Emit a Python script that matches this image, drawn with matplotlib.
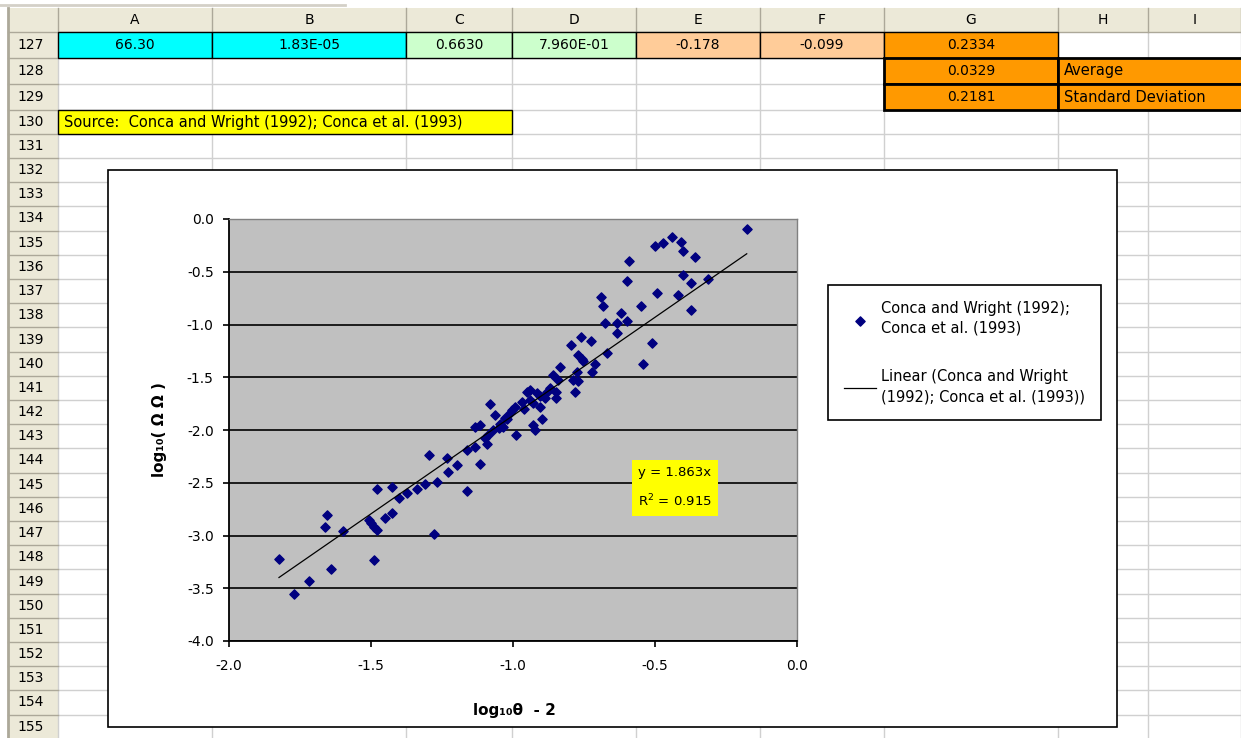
import numpy as np
import matplotlib.pyplot as plt
from matplotlib.patches import Rectangle

# scatter values: log10(theta) - 2  vs  log10(...)
x_vals = [-1.824, -1.770, -1.717, -1.655, -1.662, -1.642, -1.600, -1.508, -1.500, -1.490,
          -1.478, -1.479, -1.490, -1.450, -1.427, -1.427, -1.401, -1.374, -1.339, -1.310,
          -1.296, -1.277, -1.267, -1.234, -1.228, -1.198, -1.163, -1.163, -1.134, -1.116,
          -1.134, -1.116, -1.093, -1.087, -1.070, -1.034, -0.990, -1.081, -1.063, -0.928,
          -0.923, -0.899, -0.905, -1.005, -0.993, -1.010, -1.028, -1.046, -0.970, -0.952,
          -0.940, -0.917, -0.905, -0.887, -0.881, -0.858, -0.847, -0.835, -0.840, -0.782,
          -0.788, -0.770, -0.776, -0.752, -0.723, -0.711, -0.940, -0.847, -0.797, -0.770,
          -0.756, -0.762, -0.725, -0.670, -0.543, -0.509, -0.635, -0.676, -0.600, -0.635,
          -0.620, -0.549, -0.494, -0.418, -0.691, -0.684, -0.374, -0.312, -0.374, -0.403,
          -0.600, -0.592, -0.359, -0.403, -0.408, -0.441, -0.473, -0.500, -0.177,
          -1.100, -1.050, -1.020, -0.960, -0.930, -0.870]
y_vals = [-3.22, -3.55, -3.43, -2.81, -2.92, -3.32, -2.96, -2.85, -2.88, -2.92,
          -2.95, -2.56, -3.23, -2.83, -2.79, -2.54, -2.64, -2.60, -2.56, -2.51,
          -2.24, -2.99, -2.49, -2.27, -2.40, -2.33, -2.58, -2.19, -2.16, -2.32,
          -1.97, -1.95, -2.13, -2.05, -2.00, -1.97, -2.05, -1.75, -1.86, -1.95,
          -2.00, -1.90, -1.78, -1.81, -1.78, -1.84, -1.89, -1.94, -1.73, -1.64,
          -1.62, -1.65, -1.68, -1.70, -1.64, -1.48, -1.64, -1.40, -1.53, -1.64,
          -1.53, -1.54, -1.45, -1.35, -1.45, -1.37, -1.72, -1.70, -1.19, -1.29,
          -1.33, -1.12, -1.16, -1.27, -1.37, -1.18, -1.08, -0.99, -0.97, -0.99,
          -0.89, -0.82, -0.70, -0.72, -0.74, -0.82, -0.86, -0.57, -0.61, -0.53,
          -0.59, -0.40, -0.36, -0.30, -0.22, -0.17, -0.23, -0.26, -0.095,
          -2.08, -1.98, -1.90, -1.80, -1.74, -1.60]
slope = 1.863
r2 = 0.915

# spreadsheet content around the chart
col_names = ["A", "B", "C", "D", "E", "F", "G", "H", "I"]
col_edges = [58, 212, 406, 512, 636, 760, 884, 1058, 1148, 1241]
row_names = list(range(127, 156))
row127 = ["66.30", "1.83E-05", "0.6630", "7.960E-01", "-0.178", "-0.099", "0.2334"]
row127_colors = ["#00FFFF", "#00FFFF", "#CCFFCC", "#CCFFCC", "#FFCC99", "#FFCC99", "#FF9900"]
stats_vals = ["0.0329", "0.2181"]
stats_names = ["Average", "Standard Deviation"]
source_text = "Source:  Conca and Wright (1992); Conca et al. (1993)"
series_name = "Conca and Wright (1992);\nConca et al. (1993)"
trend_name = "Linear (Conca and Wright\n(1992); Conca et al. (1993))"

W, H = 1241, 738
fig = plt.figure(figsize=(W / 100, H / 100), dpi=100)
plt.rcParams['font.family'] = ['DejaVu Sans']

# background "sheet" axes in pixel units
bg = fig.add_axes([0, 0, 1, 1])
bg.set_xlim(0, W)
bg.set_ylim(H, 0)
bg.axis("off")

row_edges = [32, 58, 84, 110, 134, 158] + [158 + 24.2 * k for k in range(1, 24)]
header_col = "#ECE9D8"
grid_col = "#D0D0D0"

# header row + row header column
bg.add_patch(Rectangle((8, 8), W - 8, 24, facecolor=header_col, edgecolor="none", zorder=1))
bg.add_patch(Rectangle((8, 8), 50, H - 8, facecolor=header_col, edgecolor="none", zorder=1))
bg.plot([0, 345], [5, 5], color="#D4D0C8", lw=2, zorder=2)
bg.plot([8, 8], [8, H], color="#ACA899", lw=2, zorder=2)
for i, name in enumerate(col_names):
    x0, x1 = col_edges[i], col_edges[i + 1]
    bg.text((x0 + x1) / 2, 20, name, ha="center", va="center", fontsize=10, zorder=3)
for e in col_edges:
    bg.plot([e, e], [8, 32], color="#ACA899", lw=1, zorder=2)
    bg.plot([e, e], [32, H], color=grid_col, lw=1, zorder=1.5)
for i, r in enumerate(row_names):
    y0 = row_edges[i]
    y1 = row_edges[i + 1] if i + 1 < len(row_edges) else y0 + 24.2
    bg.text(17, (y0 + y1) / 2, str(r), ha="left", va="center", fontsize=10, zorder=3)
    bg.plot([8, 58], [y1, y1], color="#ACA899", lw=1, zorder=2)
    bg.plot([58, W], [y1, y1], color=grid_col, lw=1, zorder=1.5)
bg.plot([8, W], [32, 32], color="#ACA899", lw=1, zorder=2)

# row 127 colored cells
for i, (txt, c) in enumerate(zip(row127, row127_colors)):
    x0, x1 = col_edges[i], col_edges[i + 1]
    bg.add_patch(Rectangle((x0, 32), x1 - x0, 26, facecolor=c, edgecolor="black", lw=1, zorder=2))
    bg.text((x0 + x1) / 2, 45, txt, ha="center", va="center", fontsize=10, zorder=3)

# stats cells
for k, (v, n) in enumerate(zip(stats_vals, stats_names)):
    y0 = row_edges[1 + k]
    bg.add_patch(Rectangle((884, y0), 174, 26, facecolor="#FF9900", edgecolor="black", lw=2, zorder=2))
    bg.add_patch(Rectangle((1058, y0), W - 1058 + 5, 26, facecolor="#FF9900", edgecolor="black", lw=2, zorder=2))
    bg.text(971, y0 + 13, v, ha="center", va="center", fontsize=10, zorder=3)
    bg.text(1064, y0 + 13, n, ha="left", va="center", fontsize=10.5, zorder=3)

# source cell
bg.add_patch(Rectangle((58, 110), 454, 24, facecolor="#FFFF00", edgecolor="black", lw=1, zorder=2))
bg.text(64, 122, source_text, ha="left", va="center", fontsize=10.5, zorder=3)

# chart area
bg.add_patch(Rectangle((108, 170), 1009, 557, facecolor="white", edgecolor="black", lw=1.2, zorder=4))

# plot area
ax = fig.add_axes([229 / W, 1 - 641 / H, (797 - 229) / W, (641 - 219) / H])
ax.set_facecolor("#C0C0C0")
ax.set_xlim(-2.0, 0.0)
ax.set_ylim(-4.0, 0.0)
ax.set_xticks(np.arange(-2.0, 0.01, 0.5))
ax.set_yticks(np.arange(-4.0, 0.01, 0.5))
ax.xaxis.set_major_formatter(plt.FormatStrFormatter("%.1f"))
ax.yaxis.set_major_formatter(plt.FormatStrFormatter("%.1f"))
ax.grid(axis="y", color="black", lw=1.2)
ax.set_axisbelow(True)
ax.tick_params(direction="out", length=4, width=1.2, labelsize=10)
ax.tick_params(axis="x", pad=9)
ax.tick_params(axis="y", pad=7)
for s in ["top", "right"]:
    ax.spines[s].set_color("#808080")
    ax.spines[s].set_linewidth(1)
for s in ["left", "bottom"]:
    ax.spines[s].set_linewidth(1.3)

ax.scatter(x_vals, y_vals, marker="D", s=22, color="#000080", zorder=3, label=series_name)
xs = np.array([min(x_vals), max(x_vals)])
ax.plot(xs, slope * xs, color="black", lw=0.9, zorder=4, label=trend_name)

ax.text(-0.43, -2.55, "y = %.3fx\nR$^2$ = %.3f" % (slope, r2), ha="center", va="center",
        fontsize=9.5, linespacing=2.0, zorder=5,
        bbox=dict(boxstyle="square,pad=0.45", facecolor="#FFFF00", edgecolor="none"))

ax.set_xlabel("log₁₀θ  - 2", fontsize=11, fontweight="bold")
ax.set_ylabel("log₁₀( Ω Ω )", fontsize=11, fontweight="bold")
ax.xaxis.set_label_coords(0.503, -0.147)
ax.yaxis.set_label_coords(-0.11, 0.5)

leg = ax.legend(loc="upper left", bbox_to_anchor=(828 / W, 1 - 285 / H), bbox_transform=fig.transFigure,
                fontsize=10.5, frameon=True, fancybox=False, framealpha=1, edgecolor="black",
                borderaxespad=0, borderpad=1.1, labelspacing=2.3, handlelength=2.2,
                handletextpad=0.35, scatterpoints=1)
for t in leg.get_texts():
    t.set_linespacing(1.4)
leg.get_frame().set_linewidth(1.2)

fig.savefig("out.png", dpi=100)
